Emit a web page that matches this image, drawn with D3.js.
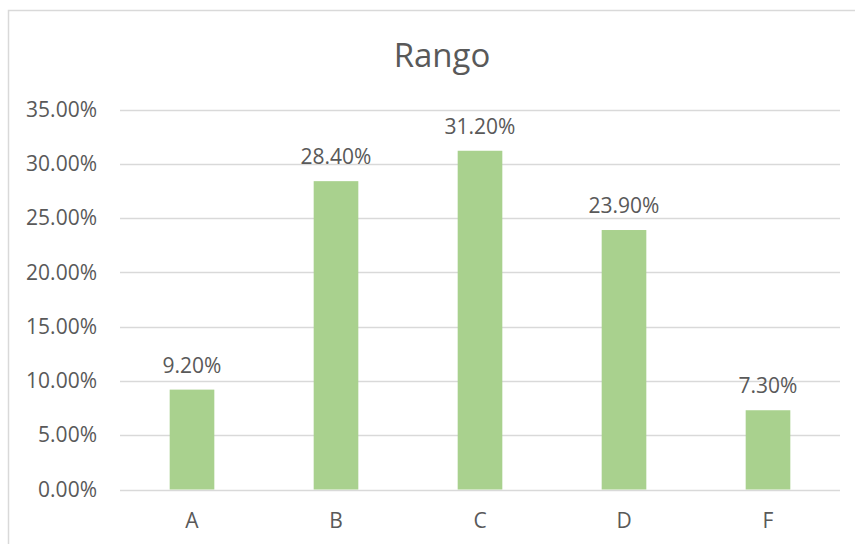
<!DOCTYPE html>
<html>
<head>
<meta charset="utf-8">
<script src="https://cdn.jsdelivr.net/npm/d3@7"></script>
<style>
  html, body { margin: 0; padding: 0; background: #fff; }
  svg { display: block; }
  text { font-family: "Open Sans", "Noto Sans", sans-serif; fill: #595959; }
</style>
</head>
<body>
<svg id="chart" width="855" height="544"></svg>
<script>
const categories = ["A", "B", "C", "D", "F"];
const values = [0.092, 0.284, 0.312, 0.239, 0.073];
const yTicks = [0, 0.05, 0.10, 0.15, 0.20, 0.25, 0.30, 0.35];
const title = "Rango";

const svg = d3.select("#chart");

// chart frame
svg.append("rect")
  .attr("x", 8.5).attr("y", 10.5)
  .attr("width", 868).attr("height", 560)
  .attr("fill", "#fff").attr("stroke", "#D9D9D9").attr("stroke-width", 1.5);

const plot = { left: 120, right: 840, top: 109.5, bottom: 489.5 };

const x = d3.scaleBand().domain(categories).range([plot.left, plot.right]).paddingInner(0.69).paddingOuter(0.345);
const y = d3.scaleLinear().domain([0, 0.35]).range([plot.bottom, plot.top]);

// title
svg.append("text")
  .attr("x", 442).attr("y", 66.5)
  .attr("text-anchor", "middle")
  .style("font-size", "33px")
  .text(title);

// gridlines
svg.append("g")
  .selectAll("line").data(yTicks).join("line")
  .attr("x1", plot.left).attr("x2", plot.right)
  .attr("y1", d => Math.round(y(d)) + 0.5).attr("y2", d => Math.round(y(d)) + 0.5)
  .attr("stroke", "#D9D9D9").attr("stroke-width", 1.5);

// y axis
const yAxis = d3.axisLeft(y).tickValues(yTicks).tickFormat(d3.format(".2%")).tickSize(0).tickPadding(23);
const gy = svg.append("g").attr("transform", `translate(${plot.left},0)`).call(yAxis);
gy.select(".domain").remove();
gy.selectAll("text").style("font-size", "21px").attr("fill", "#595959").attr("font-family", null);

// x axis
const xAxis = d3.axisBottom(x).tickSize(0).tickPadding(24);
const gx = svg.append("g").attr("transform", `translate(0,${plot.bottom})`).call(xAxis);
gx.select(".domain").remove();
gx.selectAll("text").style("font-size", "21px").attr("fill", "#595959").attr("font-family", null);

// bars
const data = categories.map((c, i) => ({ c, v: values[i] }));
svg.append("g").selectAll("rect").data(data).join("rect")
  .attr("x", d => x(d.c))
  .attr("width", x.bandwidth())
  .attr("y", d => y(d.v))
  .attr("height", d => y(0) - y(d.v))
  .attr("fill", "#A9D18E");

// value labels
svg.append("g").selectAll("text").data(data).join("text")
  .attr("x", d => x(d.c) + x.bandwidth() / 2)
  .attr("y", d => y(d.v) - 17)
  .attr("text-anchor", "middle")
  .style("font-size", "21px")
  .text(d => d3.format(".2%")(d.v));
</script>
</body>
</html>
